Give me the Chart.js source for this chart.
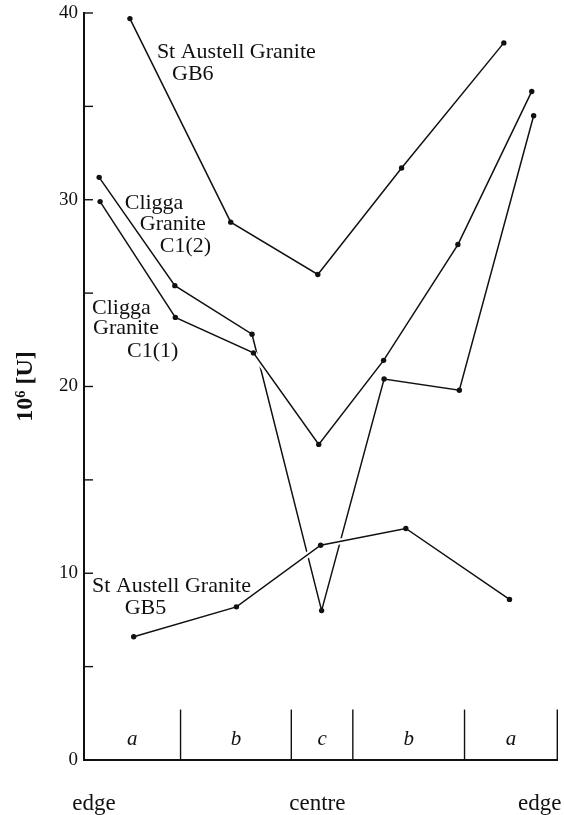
<!DOCTYPE html>
<html>
<head>
<meta charset="utf-8">
<title>Uranium across granite sections</title>
<script src="https://cdn.jsdelivr.net/npm/chart.js@4.4.1/dist/chart.umd.min.js"></script>
<style>
  html, body { margin: 0; padding: 0; background: #fff; }
  #wrap { width: 564px; height: 815px; }
</style>
</head>
<body>
<div id="wrap"><canvas id="chart" width="564" height="815"></canvas></div>
<script>
// Position across the section: 0 = left edge, 100 = right edge
// Cligga Granite C1(1)
const c11X = [3.4, 19.3, 35.8, 49.6, 63.3, 79.0, 94.6];
const c11U = [29.9, 23.7, 21.8, 16.9, 21.4, 27.6, 35.8];

// Cligga Granite C1(2)
const c12X = [3.2, 19.2, 35.5, 50.2, 63.4, 79.3, 95.0];
const c12U = [31.2, 25.4, 22.8, 8.0, 20.4, 19.8, 34.5];

// St Austell Granite GB6
const gb6X = [9.7, 31.0, 49.4, 67.1, 88.7];
const gb6U = [39.7, 28.8, 26.0, 31.7, 38.4];

// St Austell Granite GB5
const gb5X = [10.5, 32.2, 50.0, 68.0, 89.9];
const gb5U = [6.6, 8.2, 11.5, 12.4, 8.6];

// Zones along the section and where they end
const zoneNames = ['a', 'b', 'c', 'b', 'a'];
const zoneEnds = [20.4, 43.8, 56.8, 80.4, 100];

// Labels under the x axis
const edgeTicks = [2.1, 49.3, 96.3];
const edgeLabels = ['edge', 'centre', 'edge'];

// Curve labels: text lines with their anchor (x, U)
const curveNotes = [
  { text: 'St Austell Granite', x: 15.4, y: 37.9 },
  { text: 'GB6', x: 18.6, y: 36.7 },
  { text: 'Cligga', x: 8.6, y: 29.8 },
  { text: 'Granite', x: 11.8, y: 28.7 },
  { text: 'C1(2)', x: 16.0, y: 27.5 },
  { text: 'Cligga', x: 1.7, y: 24.2 },
  { text: 'Granite', x: 1.9, y: 23.1 },
  { text: 'C1(1)', x: 9.1, y: 21.9 },
  { text: 'St Austell Granite', x: 1.7, y: 9.3 },
  { text: 'GB5', x: 8.6, y: 8.15 }
];

const SERIF = '"Liberation Serif", "DejaVu Serif", serif';
const INK = '#111';

function toPoints(xs, ys) {
  return xs.map((x, i) => ({ x: x, y: ys[i] }));
}

// Black curve with dots
function curve(label, xs, ys, order) {
  return {
    label: label,
    data: toPoints(xs, ys),
    borderColor: INK,
    borderWidth: 1.5,
    pointRadius: 2.7,
    pointBackgroundColor: INK,
    pointBorderWidth: 0,
    tension: 0,
    order: order
  };
}

// White band under a curve, so lines it crosses look broken as in print
function halo(label, xs, ys, order) {
  return {
    label: label + ' halo',
    data: toPoints(xs, ys),
    borderColor: '#fff',
    borderWidth: 6,
    pointRadius: 0,
    tension: 0,
    order: order
  };
}

// Section zones, inward y ticks and curve labels
const sectionPlugin = {
  id: 'section',
  afterDraw(chart) {
    const ctx = chart.ctx;
    const xs = chart.scales.x;
    const ys = chart.scales.y;
    const y0 = ys.getPixelForValue(0);
    ctx.save();
    ctx.strokeStyle = INK;

    // inward ticks on the U axis
    ctx.lineWidth = 1.4;
    ys.ticks.forEach(t => {
      const py = ys.getPixelForValue(t.value);
      ctx.beginPath();
      ctx.moveTo(xs.left, py);
      ctx.lineTo(xs.left + 9, py);
      ctx.stroke();
    });

    // zone dividers and letters
    const top = ys.getPixelForValue(2.7);
    zoneEnds.forEach(v => {
      const px = xs.getPixelForValue(v);
      ctx.beginPath();
      ctx.moveTo(px, y0);
      ctx.lineTo(px, top);
      ctx.stroke();
    });
    ctx.fillStyle = INK;
    ctx.font = 'italic 21px ' + SERIF;
    ctx.textAlign = 'center';
    ctx.textBaseline = 'middle';
    let start = 0;
    zoneNames.forEach((name, i) => {
      const mid = (start + zoneEnds[i]) / 2;
      ctx.fillText(name, xs.getPixelForValue(mid), ys.getPixelForValue(1.1));
      start = zoneEnds[i];
    });

    // curve labels
    ctx.font = '22px ' + SERIF;
    ctx.textAlign = 'left';
    curveNotes.forEach(n => {
      ctx.fillText(n.text, xs.getPixelForValue(n.x), ys.getPixelForValue(n.y));
    });
    ctx.restore();
  }
};

new Chart(document.getElementById('chart'), {
  type: 'line',
  data: {
    datasets: [
      curve('St Austell Granite GB5', gb5X, gb5U, 1),
      halo('St Austell Granite GB5', gb5X, gb5U, 2),
      curve('Cligga Granite C1(1)', c11X, c11U, 3),
      halo('Cligga Granite C1(1)', c11X, c11U, 4),
      curve('Cligga Granite C1(2)', c12X, c12U, 5),
      curve('St Austell Granite GB6', gb6X, gb6U, 5)
    ]
  },
  options: {
    responsive: false,
    animation: false,
    layout: { padding: { top: 13, right: 6.7, left: 0, bottom: 0 } },
    plugins: {
      legend: { display: false },
      tooltip: { enabled: false }
    },
    scales: {
      x: {
        type: 'linear',
        min: 0,
        max: 100,
        grid: { display: false, drawTicks: false },
        border: { display: true, color: INK, width: 2 },
        afterBuildTicks: scale => {
          scale.ticks = edgeTicks.map(v => ({ value: v }));
        },
        afterFit: scale => {
          scale.height = 55;
          scale.paddingLeft = 0;
          scale.paddingRight = 0;
        },
        ticks: {
          autoSkip: false,
          maxRotation: 0,
          padding: 30,
          color: INK,
          font: { family: SERIF, size: 23 },
          callback: (v, i) => edgeLabels[i]
        }
      },
      y: {
        min: 0,
        max: 40,
        grid: { display: false, drawTicks: false },
        border: { display: true, color: INK, width: 2 },
        afterFit: scale => {
          scale.width = 84;
          scale.paddingTop = 0;
          scale.paddingBottom = 0;
        },
        ticks: {
          stepSize: 5,
          padding: 6,
          color: INK,
          font: { family: SERIF, size: 19 },
          callback: v => (v % 10 === 0 ? v : '')
        },
        title: {
          display: true,
          text: '10⁶ [U]',
          color: INK,
          padding: { top: 11, bottom: 0 },
          font: { family: SERIF, size: 24, weight: 'bold' }
        }
      }
    }
  },
  plugins: [sectionPlugin]
});
</script>
</body>
</html>
